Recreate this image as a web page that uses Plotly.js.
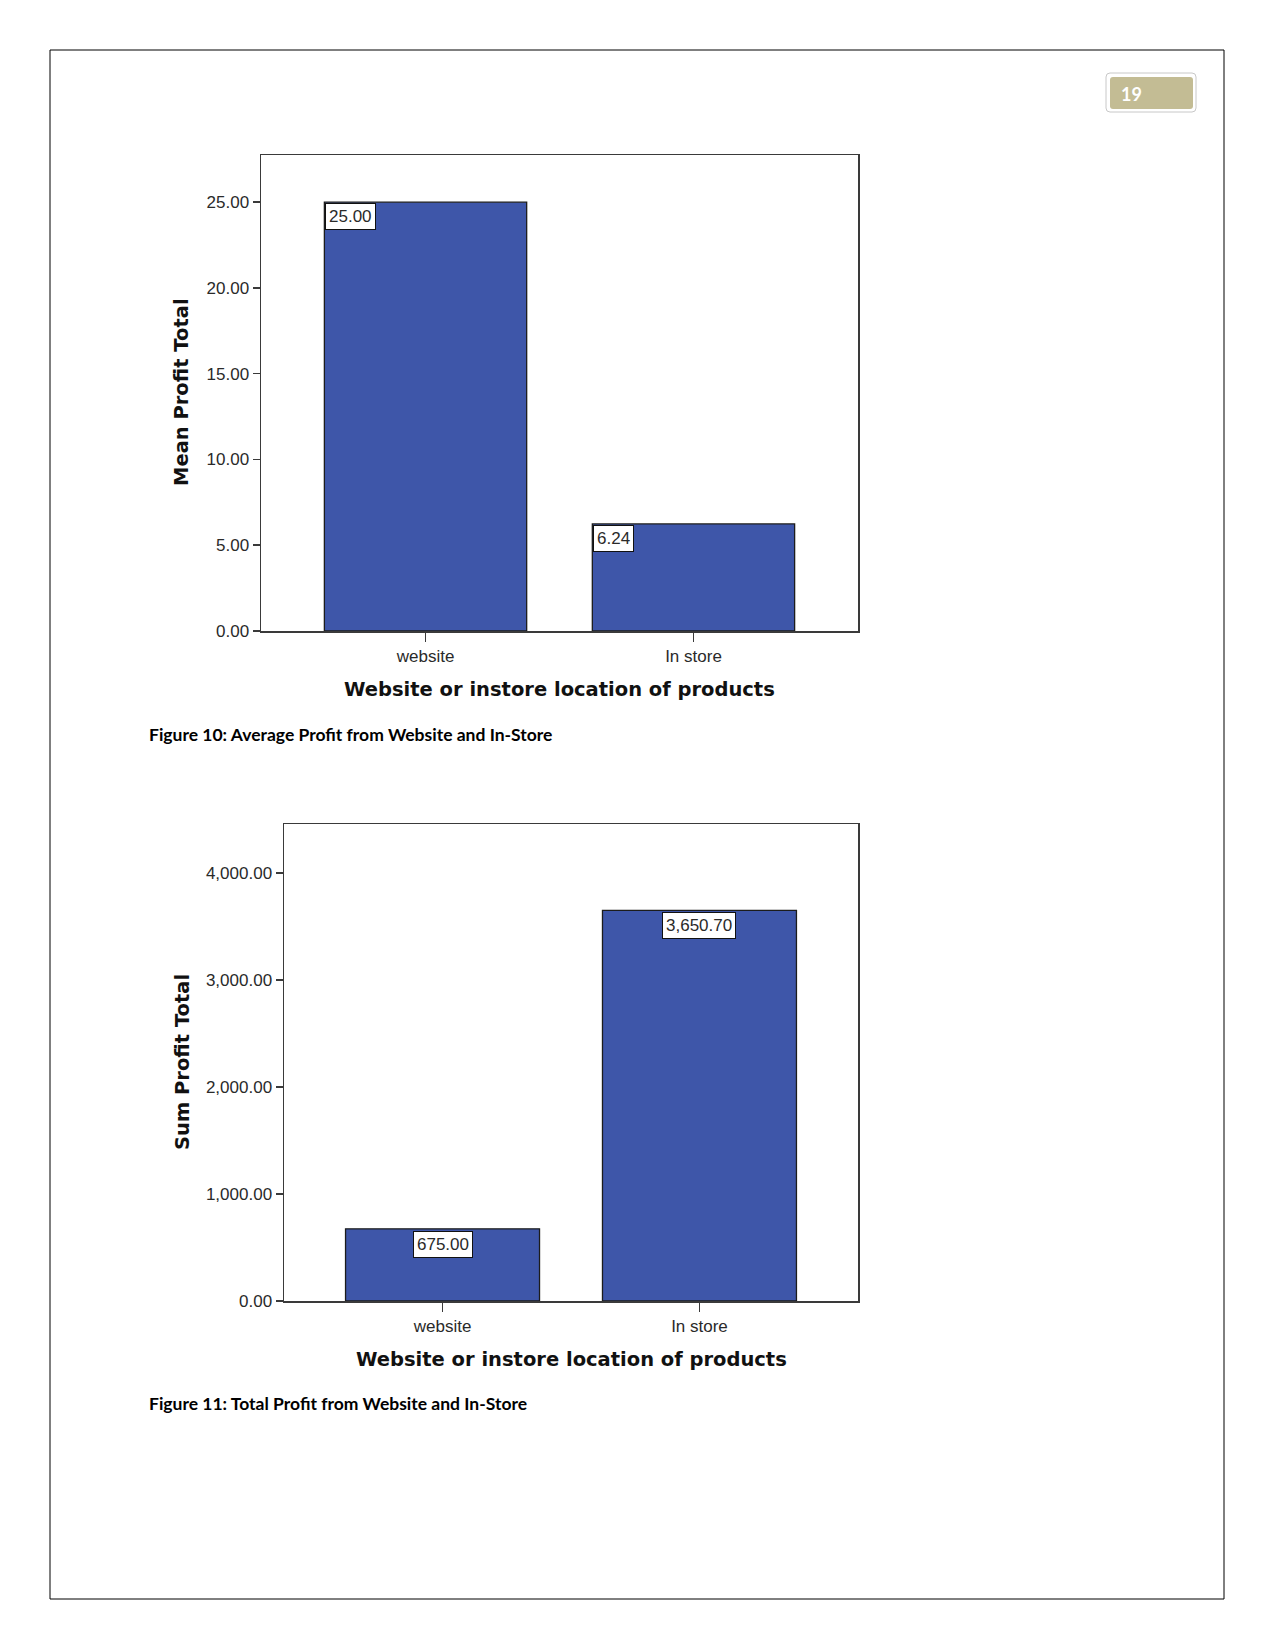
<!DOCTYPE html>
<html>
<head>
<meta charset="utf-8">
<script src="https://cdn.plot.ly/plotly-3.0.1.min.js"></script>
<style>
html,body{margin:0;padding:0;background:#fff;}
#chart{width:1275px;height:1650px;}
</style>
</head>
<body>
<div id="chart"></div>
<script>
// ---- data ----
const categories = ["website", "In store"];
const meanProfit = [25.00, 6.24];
const sumProfit = [675.00, 3650.70];
const meanLabels = ["25.00", "6.24"];
const sumLabels = ["675.00", "3,650.70"];
const xTitle = "Website or instore location of products";
const yTitle1 = "Mean Profit Total";
const yTitle2 = "Sum Profit Total";
const caption1 = "Figure 10: Average Profit from Website and In-Store";
const caption2 = "Figure 11: Total Profit from Website and In-Store";
const pageNumber = "19";

// ---- helpers ----
const W = 1275, H = 1650;
const px = v => v / W;
const py = v => 1 - v / H;
const barColor = "#3E56A9";
const barWidth = 0.755;
const tickFont = {family: "Liberation Sans, Arial, sans-serif", size: 17, color: "#2a2a2a"};
const titleFont = {family: "DejaVu Sans, Verdana, sans-serif", size: 19.5, color: "#111", weight: "bold"};
const capFont = {family: "Lato, 'Open Sans', sans-serif", size: 17.5, color: "#000", weight: "bold"};

const traces = [
  {type: "bar", x: categories, y: meanProfit, xaxis: "x", yaxis: "y", width: barWidth,
   marker: {color: barColor, line: {color: "#1c1c1c", width: 1.3}}, hoverinfo: "skip"},
  {type: "bar", x: categories, y: sumProfit, xaxis: "x2", yaxis: "y2", width: barWidth,
   marker: {color: barColor, line: {color: "#1c1c1c", width: 1.3}}, hoverinfo: "skip"}
];

const axisCommon = {
  showline: true, mirror: true, linecolor: "#3a3a3a", linewidth: 1.5,
  showgrid: false, zeroline: false, ticks: "outside", tickcolor: "#3a3a3a",
  tickwidth: 1.5, tickfont: tickFont, fixedrange: true
};

const annotations = [];
// value labels
meanProfit.forEach((v, i) => annotations.push({
  xref: "x", yref: "y", x: i - barWidth / 2, y: v, xanchor: "left", yanchor: "top",
  text: meanLabels[i], showarrow: false, bgcolor: "#fff", bordercolor: "#111",
  borderwidth: 1, borderpad: 3, font: tickFont, xshift: 1, yshift: -1
}));
sumProfit.forEach((v, i) => annotations.push({
  xref: "x2", yref: "y2", x: i, y: v, xanchor: "center", yanchor: "top",
  text: sumLabels[i], showarrow: false, bgcolor: "#fff", bordercolor: "#111",
  borderwidth: 1, borderpad: 3, font: tickFont, yshift: -2
}));
// axis titles
annotations.push(
  {xref: "paper", yref: "paper", x: px(182), y: py(392), text: yTitle1, textangle: -90,
   showarrow: false, font: titleFont, xanchor: "center", yanchor: "middle"},
  {xref: "paper", yref: "paper", x: px(559), y: py(689), text: xTitle,
   showarrow: false, font: titleFont, xanchor: "center", yanchor: "middle"},
  {xref: "paper", yref: "paper", x: px(182), y: py(1062), text: yTitle2, textangle: -90,
   showarrow: false, font: titleFont, xanchor: "center", yanchor: "middle"},
  {xref: "paper", yref: "paper", x: px(571), y: py(1359), text: xTitle,
   showarrow: false, font: titleFont, xanchor: "center", yanchor: "middle"},
  {xref: "paper", yref: "paper", x: px(147), y: py(734), text: caption1,
   showarrow: false, font: capFont, xanchor: "left", yanchor: "middle"},
  {xref: "paper", yref: "paper", x: px(147), y: py(1403), text: caption2,
   showarrow: false, font: capFont, xanchor: "left", yanchor: "middle"},
  {xref: "paper", yref: "paper", x: px(1119), y: py(94), text: pageNumber,
   showarrow: false, font: {family: "Lato, sans-serif", size: 18, color: "#fff", weight: "bold"},
   xanchor: "left", yanchor: "middle"}
);

// rounded rect path in paper units
function roundRect(x0, y0, x1, y1, r) {
  const X = v => px(v), Y = v => py(v);
  return `M ${X(x0 + r)} ${Y(y0)} L ${X(x1 - r)} ${Y(y0)} Q ${X(x1)} ${Y(y0)} ${X(x1)} ${Y(y0 + r)} ` +
         `L ${X(x1)} ${Y(y1 - r)} Q ${X(x1)} ${Y(y1)} ${X(x1 - r)} ${Y(y1)} ` +
         `L ${X(x0 + r)} ${Y(y1)} Q ${X(x0)} ${Y(y1)} ${X(x0)} ${Y(y1 - r)} ` +
         `L ${X(x0)} ${Y(y0 + r)} Q ${X(x0)} ${Y(y0)} ${X(x0 + r)} ${Y(y0)} Z`;
}

const shapes = [
  {type: "rect", xref: "paper", yref: "paper", x0: px(50), x1: px(1224), y0: py(1599), y1: py(50),
   line: {color: "#000", width: 1}, fillcolor: "rgba(0,0,0,0)", layer: "below"},
  {type: "path", xref: "paper", yref: "paper", path: roundRect(1106, 73, 1196, 112, 4),
   line: {color: "#c8c8c8", width: 1}, fillcolor: "#fff", layer: "below"},
  {type: "path", xref: "paper", yref: "paper", path: roundRect(1110, 77, 1193, 109, 3),
   line: {color: "#c2bb93", width: 0}, fillcolor: "#C3BC94", layer: "below"}
];

const layout = {
  width: W, height: H,
  margin: {l: 0, r: 0, t: 0, b: 0},
  paper_bgcolor: "#fff", plot_bgcolor: "#fff",
  showlegend: false,
  xaxis: Object.assign({}, axisCommon, {domain: [px(261), px(858)], range: [-0.614, 1.614],
    anchor: "y", ticklen: 9, type: "category"}),
  yaxis: Object.assign({}, axisCommon, {domain: [py(631), py(155)], range: [0, 27.75],
    anchor: "x", ticklen: 7, dtick: 5, tick0: 0, tickformat: ".2f"}),
  xaxis2: Object.assign({}, axisCommon, {domain: [px(284), px(858)], range: [-0.617, 1.617],
    anchor: "y2", ticklen: 9, type: "category"}),
  yaxis2: Object.assign({}, axisCommon, {domain: [py(1301), py(824)], range: [0, 4458],
    anchor: "x2", ticklen: 7, dtick: 1000, tick0: 0, tickformat: ",.2f"}),
  annotations: annotations,
  shapes: shapes
};

Plotly.newPlot("chart", traces, layout, {displayModeBar: false, staticPlot: true});
</script>
</body>
</html>
